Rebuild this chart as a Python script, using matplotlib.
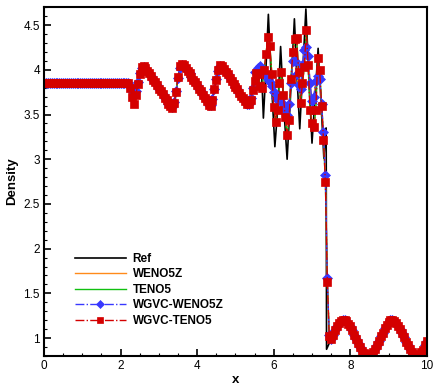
import numpy as np
import matplotlib
matplotlib.use("Agg")
import matplotlib.pyplot as plt
from matplotlib.ticker import MultipleLocator, FormatStrFormatter

plt.rcParams['font.family'] = ['Liberation Sans', 'DejaVu Sans']
plt.rcParams['font.size'] = 8.5

# grid of the computed solutions (201 points, dx = 0.05)
x = np.linspace(0.0, 10.0, 201)

wgvc_teno5 = [
    3.857, 3.857, 3.857, 3.857, 3.857, 3.857, 3.857, 3.857, 3.857, 3.857,
    3.857, 3.857, 3.857, 3.857, 3.857, 3.857, 3.857, 3.857, 3.857, 3.857,
    3.857, 3.857, 3.857, 3.857, 3.857, 3.857, 3.857, 3.857, 3.857, 3.857,
    3.857, 3.857, 3.857, 3.857, 3.857, 3.857, 3.857, 3.857, 3.857, 3.857,
    3.857, 3.857, 3.857, 3.857, 3.857, 3.80, 3.70, 3.62, 3.72, 3.84,
    3.95, 4.03, 4.04, 4.02, 3.99, 3.96, 3.93, 3.89, 3.86, 3.83,
    3.79, 3.76, 3.73, 3.69, 3.66, 3.62, 3.59, 3.57, 3.63, 3.75,
    3.92, 4.04, 4.07, 4.05, 4.02, 3.99, 3.96, 3.92, 3.89, 3.86,
    3.83, 3.79, 3.76, 3.72, 3.69, 3.65, 3.61, 3.60, 3.66, 3.78,
    3.89, 4.00, 4.05, 4.04, 4.01, 3.98, 3.95, 3.91, 3.88, 3.84,
    3.81, 3.78, 3.74, 3.71, 3.68, 3.65, 3.62, 3.62, 3.66, 3.77,
    3.87, 3.96, 3.95, 3.82, 3.80, 4.00, 4.18, 4.37, 4.27, 3.95,
    3.58, 3.42, 3.55, 3.85, 3.98, 3.72, 3.47, 3.27, 3.44, 3.90,
    4.20, 4.34, 4.35, 3.98, 3.63, 3.85, 4.03, 4.45, 4.05, 3.55,
    3.40, 3.36, 3.55, 4.13, 4.00, 3.60, 3.22, 2.74, 1.63, 1.02,
    0.99, 1.04, 1.09, 1.13, 1.17, 1.19, 1.20, 1.20, 1.19, 1.16,
    1.13, 1.09, 1.04, 0.99, 0.94, 0.90, 0.86, 0.83, 0.81, 0.80,
    0.80, 0.82, 0.84, 0.88, 0.92, 0.97, 1.02, 1.06, 1.11, 1.15,
    1.18, 1.20, 1.20, 1.19, 1.17, 1.14, 1.10, 1.06, 1.01, 0.96,
    0.92, 0.88, 0.84, 0.82, 0.80, 0.80, 0.81, 0.84, 0.87, 0.92,
    0.97,
]

wgvc_weno5z = [
    3.857, 3.857, 3.857, 3.857, 3.857, 3.857, 3.857, 3.857, 3.857, 3.857,
    3.857, 3.857, 3.857, 3.857, 3.857, 3.857, 3.857, 3.857, 3.857, 3.857,
    3.857, 3.857, 3.857, 3.857, 3.857, 3.857, 3.857, 3.857, 3.857, 3.857,
    3.857, 3.857, 3.857, 3.857, 3.857, 3.857, 3.857, 3.857, 3.857, 3.857,
    3.857, 3.857, 3.857, 3.857, 3.857, 3.82, 3.76, 3.72, 3.76, 3.86,
    3.96, 4.02, 4.03, 4.02, 3.99, 3.96, 3.93, 3.89, 3.86, 3.83,
    3.79, 3.76, 3.73, 3.69, 3.66, 3.62, 3.59, 3.58, 3.64, 3.76,
    3.91, 4.02, 4.05, 4.04, 4.02, 3.99, 3.96, 3.92, 3.89, 3.86,
    3.83, 3.79, 3.76, 3.72, 3.69, 3.65, 3.61, 3.61, 3.67, 3.79,
    3.90, 3.99, 4.04, 4.03, 4.01, 3.98, 3.95, 3.91, 3.88, 3.84,
    3.81, 3.78, 3.74, 3.71, 3.68, 3.65, 3.62, 3.62, 3.68, 3.80,
    3.98, 3.98, 4.02, 4.04, 4.00, 3.98, 3.95, 3.90, 3.86, 3.82,
    3.75, 3.68, 3.66, 3.70, 3.68, 3.62, 3.55, 3.50, 3.62, 3.85,
    4.10, 4.10, 3.95, 3.83, 3.78, 4.05, 4.22, 4.25, 4.15, 3.85,
    3.65, 3.70, 3.88, 3.93, 3.90, 3.62, 3.30, 2.82, 1.67, 1.03,
    0.99, 1.04, 1.09, 1.13, 1.17, 1.19, 1.20, 1.20, 1.19, 1.16,
    1.13, 1.09, 1.04, 0.99, 0.94, 0.90, 0.86, 0.83, 0.81, 0.80,
    0.80, 0.82, 0.84, 0.88, 0.92, 0.97, 1.02, 1.06, 1.11, 1.15,
    1.18, 1.20, 1.20, 1.19, 1.17, 1.14, 1.10, 1.06, 1.01, 0.96,
    0.92, 0.88, 0.84, 0.82, 0.80, 0.80, 0.81, 0.84, 0.87, 0.92,
    0.97,
]

# plain schemes sit right under the WGVC markers at this scale
weno5z = list(wgvc_weno5z)
teno5 = list(wgvc_teno5)

ref_x = [0.0, 2.22, 2.30, 2.36, 2.45, 2.55, 2.62, 3.35, 3.40, 3.48, 3.56, 3.62,
         4.33, 4.38, 4.47, 4.55, 4.62, 5.32, 5.37, 5.45, 5.52, 5.58, 5.64, 5.69,
         5.73, 5.79, 5.86, 5.93, 6.03, 6.11, 6.18, 6.26, 6.35, 6.45, 6.54, 6.61,
         6.68, 6.76, 6.84, 6.92, 7.00, 7.08, 7.16, 7.24, 7.31, 7.35, 7.37, 7.38,
         7.5, 7.6, 7.7, 7.83, 7.95, 8.1, 8.2, 8.3, 8.45, 8.6, 8.7, 8.8, 8.95,
         9.08, 9.2, 9.3, 9.4, 9.5, 9.6, 9.71, 9.85, 10.0]
ref_rho = [3.857, 3.857, 3.80, 3.60, 3.85, 4.03, 4.05, 3.56, 3.58, 3.85, 4.05, 4.08,
           3.59, 3.62, 3.85, 4.03, 4.06, 3.60, 3.62, 3.80, 3.95, 3.99, 4.06, 3.90,
           3.46, 3.95, 4.62, 3.95, 3.14, 3.60, 4.26, 3.60, 3.00, 3.80, 4.57, 3.90,
           3.34, 4.00, 4.68, 3.90, 3.18, 3.70, 4.24, 3.60, 3.01, 3.30, 3.35, 0.875,
           0.99, 1.08, 1.16, 1.20, 1.16, 1.04, 0.94, 0.86, 0.80, 0.85, 0.92, 1.02, 1.14,
           1.20, 1.17, 1.10, 1.00, 0.91, 0.84, 0.80, 0.84, 0.97]

fig = plt.figure(figsize=(4.36, 3.88), dpi=100)
ax = fig.add_axes([0.101, 0.0825, 0.878, 0.899])

ax.plot(ref_x, ref_rho, color='black', lw=1.2, label='Ref')
ax.plot(x, weno5z, color='#ff8a1a', lw=1.0, label='WENO5Z')
ax.plot(x, teno5, color='#10c010', lw=1.0, label='TENO5')
ax.plot(x, wgvc_weno5z, color='#3838ff', ls='-.', lw=1.0, marker='D',
        markersize=5.6, markeredgewidth=0.5, label='WGVC-WENO5Z')
ax.plot(x, wgvc_teno5, color='#d40000', ls='-.', lw=1.0, marker='s',
        markersize=5.4, markeredgewidth=0.5, label='WGVC-TENO5')

ax.set_xlim(0, 10)
ax.set_ylim(0.8, 4.7)
ax.xaxis.set_major_locator(MultipleLocator(2))
ax.xaxis.set_minor_locator(MultipleLocator(0.5))
ax.yaxis.set_major_locator(MultipleLocator(0.5))
ax.yaxis.set_minor_locator(MultipleLocator(0.1))
ax.xaxis.set_major_formatter(FormatStrFormatter('%g'))
ax.yaxis.set_major_formatter(FormatStrFormatter('%g'))
ax.tick_params(which='both', direction='in', top=False, right=False)
ax.tick_params(which='major', length=5, width=1.2, pad=3)
ax.tick_params(which='minor', length=2.5, width=0.8)
for s in ax.spines.values():
    s.set_linewidth(1.5)

ax.set_xlabel('x', fontweight='bold', fontsize=9.5, labelpad=1)
ax.set_ylabel('Density', fontweight='bold', fontsize=9.5, labelpad=4)

ax.legend(loc='center left', bbox_to_anchor=(0.065, 0.19), frameon=False,
          prop={'weight': 'bold', 'size': 8.5}, handlelength=4.3,
          handletextpad=0.6, labelspacing=0.3, borderpad=0, markerscale=0.8)

fig.savefig('out.png', dpi=100)
